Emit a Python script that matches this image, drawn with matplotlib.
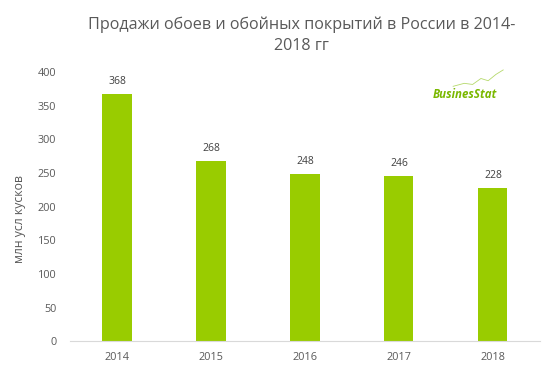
import numpy as np
import matplotlib.pyplot as plt

years = ["2014", "2015", "2016", "2017", "2018"]
sales = [368, 268, 248, 246, 228]

TITLE = "Продажи обоев и обойных покрытий в России в 2014-\n2018 гг"
YLABEL = "млн усл кусков"

GREEN = "#99cc00"
GREY = "#595959"

plt.rcParams["font.family"] = ["Open Sans", "DejaVu Sans"]


def main():
    fig = plt.figure(figsize=(5.56, 3.72), dpi=100)
    ax = fig.add_axes([0.126, 0.083, 0.845, 0.723])

    x = np.arange(len(years))
    bars = ax.bar(x, sales, width=0.31, color=GREEN)

    for rect, val in zip(bars, sales):
        ax.annotate(
            str(val),
            (rect.get_x() + rect.get_width() / 2, val),
            xytext=(0, 5),
            textcoords="offset points",
            ha="center",
            va="bottom",
            fontsize=7.5,
            color="#404040",
        )

    ax.set_xlim(-0.5, len(years) - 0.5)
    ax.set_ylim(0, 400)
    ax.set_yticks(range(0, 401, 50))
    ax.set_xticks(x)
    ax.set_xticklabels(years)

    for side in ["top", "right", "left"]:
        ax.spines[side].set_visible(False)
    ax.spines["bottom"].set_color("#d9d9d9")
    ax.tick_params(axis="both", length=0, labelsize=7.8, colors=GREY)
    ax.tick_params(axis="y", pad=10)
    ax.tick_params(axis="x", pad=8)

    ax.set_ylabel(YLABEL, fontsize=8.8, color=GREY)
    ax.yaxis.set_label_coords(-0.093, 0.455)

    fig.text(0.543, 0.905, TITLE, ha="center", va="center",
             fontsize=11.6, color=GREY, linespacing=1.35)

    # logo
    fig.text(0.778, 0.745, "BusinesStat", fontsize=8.3, fontweight="bold",
             style="italic", color="#7ab800", ha="left", va="center")
    lx = [0.815, 0.835, 0.85, 0.865, 0.878, 0.892, 0.905]
    ly = [0.768, 0.776, 0.773, 0.789, 0.783, 0.80, 0.812]
    fig.add_artist(plt.Line2D(lx, ly, color="#b5d96b", lw=0.6))

    fig.savefig("out.png", dpi=100)


if __name__ == "__main__":
    main()
